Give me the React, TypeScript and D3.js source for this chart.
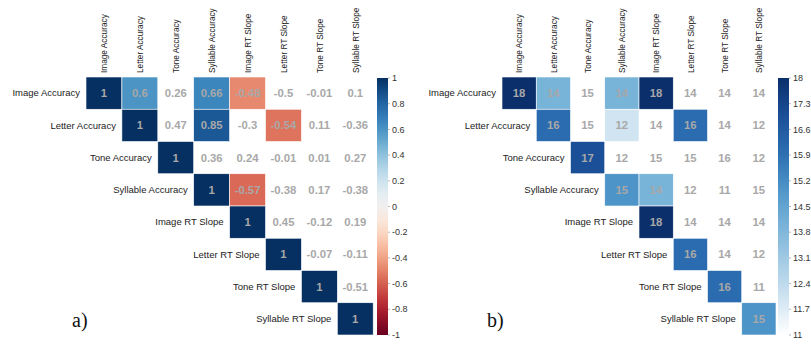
import React from "react";
import * as d3 from "d3";

// variables shown on both axes
const variables = [
  "Image Accuracy",
  "Letter Accuracy",
  "Tone Accuracy",
  "Syllable Accuracy",
  "Image RT Slope",
  "Letter RT Slope",
  "Tone RT Slope",
  "Syllable RT Slope",
];

// upper triangle, row i starts at column i
const corrRows = [
  [1, 0.6, 0.26, 0.66, -0.48, -0.5, -0.01, 0.1],
  [1, 0.47, 0.85, -0.3, -0.54, 0.11, -0.36],
  [1, 0.36, 0.24, -0.01, 0.01, 0.27],
  [1, -0.57, -0.38, 0.17, -0.38],
  [1, 0.45, -0.12, 0.19],
  [1, -0.07, -0.11],
  [1, -0.51],
  [1],
];

const countRows = [
  [18, 14, 15, 14, 18, 14, 14, 14],
  [16, 15, 12, 14, 16, 14, 12],
  [17, 12, 15, 15, 16, 12],
  [15, 14, 12, 11, 15],
  [18, 14, 14, 14],
  [16, 14, 12],
  [16, 11],
  [15],
];

// off-diagonal cells that get a fill colour (row, col)
const filledPairs = [
  [0, 1],
  [0, 3],
  [0, 4],
  [1, 3],
  [1, 5],
  [3, 4],
];

const corrTicks = [1, 0.8, 0.6, 0.4, 0.2, 0, -0.2, -0.4, -0.6, -0.8, -1];
const countTicks = [18, 17.3, 16.6, 15.9, 15.2, 14.5, 13.8, 13.1, 12.4, 11.7, 11];

const FONT = "'Liberation Sans', Arial, sans-serif";

type PanelProps = {
  id: string;
  rows: number[][];
  color: (v: number) => string;
  domain: [number, number];
  ticks: number[];
  x0: number;
  cellW: number;
  barX: number;
  tag: string;
  tagX: number;
};

function Panel({ id, rows, color, domain, ticks, x0, cellW, barX, tag, tagX }: PanelProps) {
  const top = 77;
  const bottom = 335;
  const idx = variables.map((_, i) => i);
  const x = d3.scaleBand<number>().domain(idx).range([x0, x0 + cellW * 8]);
  const y = d3.scaleBand<number>().domain(idx).range([top, bottom]);
  const bar = d3.scaleLinear().domain(domain).range([bottom, 78]);
  const isFilled = (r: number, c: number) =>
    r === c || filledPairs.some(([a, b]) => a === r && b === c);

  const cells: { r: number; c: number; v: number }[] = [];
  rows.forEach((row, r) => row.forEach((v, k) => cells.push({ r, c: r + k, v })));

  const stops = d3.range(0, 1.0001, 0.05).map((t) => ({
    off: t,
    col: color(domain[0] + (domain[1] - domain[0]) * (1 - t)),
  }));

  return (
    <g>
      <defs>
        <linearGradient id={id} x1="0" y1="0" x2="0" y2="1">
          {stops.map((s, i) => (
            <stop key={i} offset={s.off} stopColor={s.col} />
          ))}
        </linearGradient>
      </defs>

      {cells.map(({ r, c, v }) => (
        <g key={r + "-" + c}>
          {isFilled(r, c) && (
            <rect
              x={x(c)}
              y={y(r)}
              width={x.bandwidth()}
              height={y.bandwidth()}
              fill={color(v)}
              stroke="#ffffff"
              strokeWidth={0.6}
            />
          )}
          <text
            x={(x(c) as number) + x.bandwidth() / 2}
            y={(y(r) as number) + y.bandwidth() / 2}
            dy="0.36em"
            textAnchor="middle"
            fontFamily={FONT}
            fontWeight="bold"
            fontSize={11.3}
            fill="#a8a8a8"
          >
            {v}
          </text>
        </g>
      ))}

      {variables.map((name, i) => (
        <text
          key={"row" + i}
          x={(x(i) as number) - 6}
          y={(y(i) as number) + y.bandwidth() / 2}
          dy="0.35em"
          textAnchor="end"
          fontFamily={FONT}
          fontSize={9.5}
          fill="#222"
        >
          {name}
        </text>
      ))}

      {variables.map((name, i) => (
        <text
          key={"col" + i}
          transform={`translate(${(x(i) as number) + x.bandwidth() / 2},73) rotate(-90) scale(0.88,1)`}
          dy="0.35em"
          textAnchor="start"
          fontFamily={FONT}
          fontSize={9.4}
          fill="#222"
        >
          {name}
        </text>
      ))}

      <rect x={barX} y={78} width={11} height={bottom - 78} fill={`url(#${id})`} />
      {ticks.map((t) => (
        <g key={"t" + t}>
          <line x1={barX + 11} x2={barX + 13} y1={bar(t)} y2={bar(t)} stroke="#888" strokeWidth={0.6} />
          <text
            x={barX + 15}
            y={bar(t)}
            dy="0.35em"
            fontFamily={FONT}
            fontSize={9}
            fill="#333"
          >
            {t}
          </text>
        </g>
      ))}

      <text x={tagX} y={327} fontFamily="'Liberation Serif', 'Times New Roman', serif" fontSize={20} fill="#111">
        {tag}
      </text>
    </g>
  );
}

export default function App() {
  const corrColor = (v: number) => d3.interpolateRdBu((v + 1) / 2);
  const countScale = d3
    .scaleLinear<string>()
    .domain([11, 12, 14, 15, 16, 17, 18])
    .range(["#ffffff", "#d0e4f2", "#78b3d8", "#4d94c8", "#2b6cb0", "#1b4f97", "#0a2f6b"])
    .interpolate(d3.interpolateRgb)
    .clamp(true);
  const countColor = (v: number) => countScale(v);

  return (
    <svg
      width={811}
      height={345}
      style={{ position: "absolute", left: 0, top: 0, background: "#fff" }}
    >
      <Panel
        id="corrGrad"
        rows={corrRows}
        color={corrColor}
        domain={[-1, 1]}
        ticks={corrTicks}
        x0={86}
        cellW={35.9}
        barX={377}
        tag="a)"
        tagX={72}
      />
      <Panel
        id="countGrad"
        rows={countRows}
        color={countColor}
        domain={[11, 18]}
        ticks={countTicks}
        x0={502}
        cellW={34.25}
        barX={778}
        tag="b)"
        tagX={487}
      />
    </svg>
  );
}
